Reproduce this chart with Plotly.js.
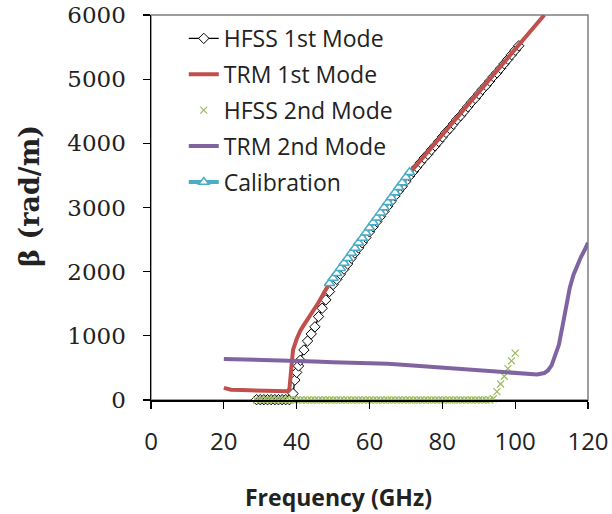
<!DOCTYPE html>
<html>
<head>
<meta charset="utf-8">
<script src="https://cdn.plot.ly/plotly-3.0.1.min.js"></script>
<style>html,body{margin:0;padding:0;background:#fff;}#chart{width:612px;height:514px;}</style>
</head>
<body>
<div id="chart"></div>
<script>
// HFSS 1st Mode (diamonds)
const hfss1F = [29,30,31,32,33,34,35,36,37,38,39,39.5,40,40.5,41,42,43,44,45,46,47,48,49,
  50,51,52,53,54,55,56,57,58,59,60,61,62,63,64,65,66,67,68,69,70,71,72,73,74,75,76,77,78,79,80,
  81,82,83,84,85,86,87,88,89,90,91,92,93,94,95,96,97,98,99,100,101];
const hfss1B = [5,5,5,5,5,5,5,5,5,5,100,310,430,530,620,780,920,1030,1140,1300,1430,1560,1690,
  1800,1880,1960,2040,2120,2210,2290,2370,2450,2530,2620,2700,2780,2860,2940,3020,3100,3180,3260,3330,3410,3490,3560,3630,3700,3770,3830,3900,3960,4030,4100,
  4170,4230,4300,4370,4430,4500,4570,4640,4700,4770,4840,4900,4970,5040,5100,5170,5240,5310,5380,5450,5520];

// TRM 1st Mode (red line)
const trm1F = [20,21,22,25,30,35,36.5,37.5,38,38.5,39,40,41,42,44,46,48,50,55,60,65,70,72,75,80,85,90,95,100,105,108];
const trm1B = [190,170,160,155,145,135,128,135,170,450,780,950,1080,1170,1340,1520,1720,1900,2300,2690,3080,3470,3600,3800,4130,4460,4800,5130,5460,5800,6000];

// HFSS 2nd Mode (x markers)
const hfss2F = [29,30,31,32,33,34,35,36,37,38,39,40,41,42,43,44,45,46,47,48,49,50,51,52,53,54,55,56,57,58,59,60,61,62,63,64,
  65,66,67,68,69,70,71,72,73,74,75,76,77,78,79,80,81,82,83,84,85,86,87,88,89,90,91,92,93,94,95,96,97,98,99,100];
const hfss2B = [0,0,0,0,0,0,0,0,0,0,0,0,0,0,0,0,0,0,0,0,0,0,0,0,0,0,0,0,0,0,0,0,0,0,0,0,
  0,0,0,0,0,0,0,0,0,0,0,0,0,0,0,0,0,0,0,0,0,0,0,0,0,0,0,0,0,20,130,250,370,490,610,730];

// TRM 2nd Mode (purple line)
const trm2F = [20,25,30,35,40,45,50,55,60,65,70,75,80,85,90,95,100,104,106,108,109,110,111,112,113,114,115,116,117,118,119,120];
const trm2B = [640,635,630,620,610,600,590,585,580,565,545,525,500,480,460,440,415,395,398,420,460,540,680,860,1150,1450,1750,1950,2100,2220,2330,2450];

// Calibration (triangles)
const calF = [49,50,51,52,53,54,55,56,57,58,59,60,61,62,63,64,65,66,67,68,69,70,71];
const calB = [1820,1900,1975,2055,2135,2210,2290,2370,2450,2525,2605,2685,2765,2840,2920,3000,3080,3155,3235,3315,3390,3470,3550];

const xTicks = [0,20,40,60,80,100,120];
const yTicks = [0,1000,2000,3000,4000,5000,6000];

const traces = [
  {x: hfss1F, y: hfss1B, name: 'HFSS 1st Mode', legendgroup: 'g1', mode: 'lines+markers', cliponaxis: false,
   line: {color: '#000000', width: 1.3},
   marker: {symbol: 'diamond', size: 8, color: '#ffffff', line: {color: '#000000', width: 1}}},
  {x: trm1F, y: trm1B, name: 'TRM 1st Mode', legendgroup: 'g2', mode: 'lines', line: {color: '#C0504D', width: 4}},
  {x: hfss2F, y: hfss2B, name: 'HFSS 2nd Mode', legendgroup: 'g3', mode: 'markers', cliponaxis: false,
   marker: {symbol: 'x-thin', size: 7, color: '#9BBB59', line: {color: '#9BBB59', width: 1.2}}},
  {x: trm2F, y: trm2B, name: 'TRM 2nd Mode', legendgroup: 'g4', mode: 'lines', line: {color: '#8064A2', width: 4}},
  {x: calF, y: calB, name: 'Calibration', legendgroup: 'g5', mode: 'lines+markers',
   line: {color: '#4BACC6', width: 4},
   marker: {symbol: 'triangle-up', size: 9, color: '#ffffff', line: {color: '#4BACC6', width: 1.5}}}
];

const layout = {
  width: 612, height: 514,
  margin: {l: 151, r: 24, t: 15, b: 114},
  paper_bgcolor: '#ffffff', plot_bgcolor: '#ffffff',
  showlegend: true,
  legend: {x: 0.075, y: 0.995, xanchor: 'left', yanchor: 'top', bgcolor: 'rgba(255,255,255,0)',
    font: {family: 'Open Sans', size: 23, color: '#222'}, tracegroupgap: 3, traceorder: 'grouped'},
  xaxis: {range: [0, 120], tickvals: xTicks, ticktext: xTicks.map(String), ticks: 'outside', ticklen: 7, tickwidth: 1.3, tickcolor: '#000',
    showline: true, linecolor: '#000', linewidth: 1.5, showgrid: false, zeroline: false, ticklabelstandoff: 13,
    tickfont: {family: 'Open Sans', size: 24, color: '#222'}},
  yaxis: {range: [0, 6000], tickvals: yTicks, ticktext: yTicks.map(String), ticks: 'outside', ticklen: 7, tickwidth: 1.3, tickcolor: '#000',
    showline: true, linecolor: '#000', linewidth: 1.5, showgrid: false, zeroline: false, ticklabelstandoff: 12,
    tickfont: {family: 'DejaVu Serif', size: 23, color: '#222'}},
  xaxis2: {overlaying: 'x', anchor: 'y', range: [0, 120], tickvals: xTicks, ticks: 'inside', ticklen: 7, tickwidth: 1.3, tickcolor: '#000',
    showticklabels: false, showline: false, showgrid: false, zeroline: false},
  yaxis2: {overlaying: 'y', anchor: 'x', side: 'left', range: [0, 6000], tickvals: yTicks, ticks: 'inside', ticklen: 7, tickwidth: 1.3, tickcolor: '#000',
    showticklabels: false, showline: false, showgrid: false, zeroline: false},
  shapes: [{type: 'rect', xref: 'paper', yref: 'paper', x0: 0, x1: 1, y0: 0, y1: 1, layer: 'below',
    line: {color: '#7f7f7f', width: 1.5}}],
  annotations: [
    {text: '<b>Frequency (GHz)</b>', xref: 'paper', yref: 'paper', x: 0.428, y: -0.252, xanchor: 'center', yanchor: 'middle',
     showarrow: false, font: {family: 'Open Sans', size: 23, color: '#222'}},
    {text: '<b>β (rad/m)</b>', xref: 'paper', yref: 'paper', x: -0.277, y: 0.53, xanchor: 'center', yanchor: 'middle',
     textangle: -90, showarrow: false, font: {family: 'DejaVu Serif', size: 27, color: '#222'}}
  ]
};

Plotly.newPlot('chart', traces, layout, {displayModeBar: false, staticPlot: true});
</script>
</body>
</html>
